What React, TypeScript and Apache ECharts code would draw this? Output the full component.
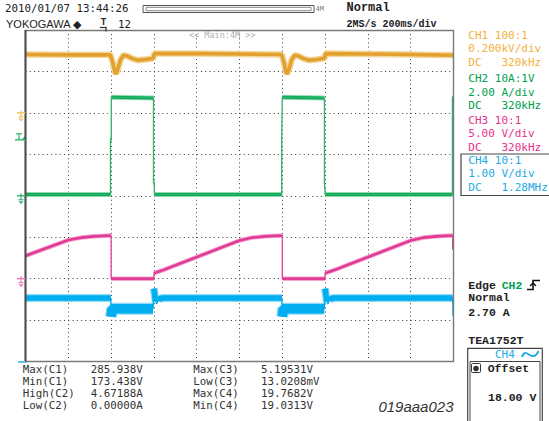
import React, { useEffect, useRef } from 'react';
import * as echarts from 'echarts';

type Pt = [number, number];

// ---- screen geometry (layout) ----
const GRID = { left: 25.5, top: 30, width: 428, height: 331.5 };
const X_DIVS = 10;
const Y_DIVS = 8;

// ---- traces in divisions (x: 200 ms/div, y: div from bottom) ----
const ch1Trace: Pt[] = [
  [0, 7.41], [1.0, 7.40], [1.98, 7.40], [2.03, 7.25], [2.08, 7.02], [2.11, 6.94], [2.15, 7.03],
  [2.22, 7.28], [2.29, 7.39], [2.38, 7.37], [2.5, 7.31], [2.62, 7.27], [2.8, 7.29], [2.99, 7.32],
  [3.01, 7.43], [4.0, 7.43], [5.0, 7.42], [5.98, 7.41], [6.03, 7.25], [6.08, 7.02], [6.11, 6.94],
  [6.15, 7.03], [6.22, 7.28], [6.29, 7.39], [6.38, 7.37], [6.5, 7.31], [6.62, 7.27], [6.8, 7.29],
  [6.99, 7.32], [7.01, 7.43], [8.0, 7.42], [9.0, 7.41], [10, 7.39],
];
const ch2Trace: Pt[] = [
  [0, 4.03], [1.985, 4.03], [1.985, 5.36], [2.005, 5.36], [2.005, 6.38], [2.99, 6.36],
  [2.99, 4.31], [3.01, 4.31], [3.01, 4.03], [5.985, 4.03], [5.985, 5.36], [6.0, 5.36], [6.0, 6.38],
  [6.985, 6.36], [6.985, 4.31], [7.0, 4.31], [7.0, 4.03], [9.975, 4.03], [9.975, 6.37], [10, 6.37],
];
const ch3Trace: Pt[] = [
  [0, 2.55], [1.0, 2.93], [1.3, 2.99], [1.6, 3.02], [2.0, 3.04], [2.0, 2.0], [3.0, 2.0], [3.0, 2.13],
  [3.25, 2.22], [5.0, 2.92], [5.3, 2.99], [5.6, 3.02], [6.0, 3.04], [6.0, 2.0], [7.0, 2.0], [7.0, 2.13],
  [7.25, 2.22], [9.0, 2.92], [9.3, 2.99], [9.6, 3.02], [9.98, 3.04], [9.98, 2.7],
];
const ch4Trace: Pt[] = [
  [0, 1.53], [1.99, 1.53], [2.0, 1.08], [2.02, 1.27], [2.98, 1.27], [3.0, 1.76], [3.04, 1.45],
  [3.07, 1.39], [3.1, 1.56], [3.15, 1.51], [3.2, 1.53], [5.99, 1.53], [6.0, 1.08], [6.02, 1.27],
  [6.98, 1.27], [7.0, 1.76], [7.04, 1.45], [7.07, 1.39], [7.1, 1.56], [7.15, 1.51], [7.2, 1.53],
  [9.98, 1.53], [9.99, 1.09],
];

const ch1Ground = 6;
const ch2Ground = 4;
const ch3Ground = 2;
const ch4Ground = 0;
const ch2TriggerLevel = 5.35;

// ---- texts ----
const dateText = '2010/01/07 13:44:26';
const brandText = 'YOKOGAWA ◆';
const triggerCount = '12';
const acqMode = 'Normal';
const timebase = '2MS/s 200ms/div';
const memLabel = '4M';
const zoomLabel = '<< Main:4M >>';
const ch1Info = ['CH1 100:1', '0.200kV/div', 'DC   320kHz'];
const ch2Info = ['CH2 10A:1V', '2.00 A/div', 'DC   320kHz'];
const ch3Info = ['CH3 10:1', '5.00 V/div', 'DC   320kHz'];
const ch4Info = ['CH4 10:1', '1.00 V/div', 'DC   1.28MHz'];
const trigLines = ['Normal', '2.70 A'];
const deviceName = 'TEA1752T';
const offsetLabel = 'Offset';
const offsetValue = '18.00 V';
const statLabelsA = ['Max(C1)', 'Min(C1)', 'High(C2)', 'Low(C2)'];
const statValuesA = ['285.938V', '173.438V', '4.67188A', '0.00000A'];
const statLabelsB = ['Max(C3)', 'Low(C3)', 'Max(C4)', 'Min(C4)'];
const statValuesB = ['5.19531V', '13.0208mV', '19.7682V', '19.0313V'];
const figureId = '019aaa023';

const C1 = '#E2A12F', C2 = '#00A651', C3 = '#E23C97', C4 = '#00AEEF';
const T1 = '#F2B13A', T2 = '#00A04E', T3 = '#E8308C', T4 = '#1BA9E6';
const MONO = '"DejaVu Sans Mono", monospace';
const LMONO = '"Liberation Mono", monospace';

function band(points: Pt[], keep: (a: Pt, b: Pt) => boolean): any[] {
  const out: any[] = [];
  let last = -1;
  for (let i = 0; i < points.length - 1; i++) {
    if (!keep(points[i], points[i + 1])) continue;
    if (last !== i) {
      if (out.length) out.push(['-', '-']);
      out.push(points[i]);
    }
    out.push(points[i + 1]);
    last = i + 1;
  }
  return out;
}
const flat = (a: Pt, b: Pt) => Math.abs(b[1] - a[1]) <= 12 * Math.abs(b[0] - a[0]);

function line(data: any[], color: string, width: number, opacity = 1) {
  return {
    type: 'line', data, showSymbol: false, symbol: 'none', silent: true,
    connectNulls: false, lineStyle: { color, width, opacity, cap: 'butt' },
  };
}

function txt(text: string, x: number, y: number, size: number, fill: string, family = MONO, weight: any = 'normal', extra: any = {}) {
  return {
    type: 'text', x, y, z: 50,
    style: {
      text, fill, fontSize: size, fontFamily: family, fontWeight: weight,
      verticalAlign: 'middle', textVerticalAlign: 'middle', align: 'left', textAlign: 'left', ...extra,
    },
  };
}

function seg(x1: number, y1: number, x2: number, y2: number, stroke: string, lineWidth: number) {
  return { type: 'line', z: 55, shape: { x1, y1, x2, y2 }, style: { stroke, lineWidth } };
}

function groundMarker(y: number, color: string) {
  return [
    seg(17, y, 25.5, y, color, 1.5),
    seg(21, y - 2.5, 21, y + 4, color, 1.2),
    seg(18.5, y + 4, 23.5, y + 4, color, 1.2),
    { type: 'polygon', z: 50, shape: { points: [[18.5, y + 5.5], [23.5, y + 5.5], [21, y + 8.5]] }, style: { fill: color } },
  ];
}

export default function App() {
  const ref = useRef<HTMLDivElement>(null);
  useEffect(() => {
    if (!ref.current) return;
    const chart = echarts.init(ref.current, null, { renderer: 'svg' });
    const axisCommon = { axisLine: { show: false }, axisTick: { show: false }, axisLabel: { show: false } };
    chart.setOption({
      animation: false,
      backgroundColor: '#ffffff',
      grid: { left: GRID.left, top: GRID.top, width: GRID.width, height: GRID.height, containLabel: false },
      xAxis: {
        type: 'value', min: 0, max: X_DIVS, interval: 1, ...axisCommon,
        splitLine: { show: true, lineStyle: { color: '#3c3c3c', width: 1, type: [1, 3.14] } },
      },
      yAxis: {
        type: 'value', min: 0, max: Y_DIVS, interval: 1, ...axisCommon,
        splitLine: { show: true, lineStyle: { color: '#3c3c3c', width: 1, type: [1, 3.28] } },
      },
      series: [
        // CH4
        line(band(ch4Trace, (a, b) => flat(a, b) && a[1] > 1.4 && b[1] > 1.4), '#8fd8f5', 8),
        line(band(ch4Trace, (a, b) => flat(a, b) && a[1] < 1.35 && b[1] < 1.35), '#8fd8f5', 12),
        line(band(ch4Trace, (a, b) => flat(a, b) && a[1] > 1.4 && b[1] > 1.4), C4, 5.5),
        line(band(ch4Trace, (a, b) => flat(a, b) && a[1] < 1.35 && b[1] < 1.35), C4, 9.5),
        line(ch4Trace, C4, 1.4),
        // CH3
        line(band(ch3Trace, flat), '#f3a9d0', 4.5),
        line(band(ch3Trace, flat), C3, 2.6),
        line(ch3Trace, C3, 1.3),
        // CH2
        line(band(ch2Trace, flat), '#95dbb2', 5),
        line(band(ch2Trace, flat), C2, 3),
        line(ch2Trace, '#2fb56a', 1.3),
        // CH1
        line(band(ch1Trace, flat), '#f4d59a', 6.5),
        line(band(ch1Trace, flat), C1, 3.6),
        line(ch1Trace, C1, 1.3),
      ],
    });

    const py = (v: number) => (chart.convertToPixel({ gridIndex: 0 }, [0, v]) as number[])[1];
    const gy1 = py(ch1Ground), gy2 = py(ch2Ground), gy3 = py(ch3Ground), gy4 = py(ch4Ground);
    const ty = py(ch2TriggerLevel);
    const B = GRID.top + GRID.height;

    const els: any[] = [];
    // frame
    els.push({ type: 'rect', z: 40, shape: { x: GRID.left, y: GRID.top + 0.5, width: GRID.width, height: GRID.height - 0.5 }, style: { fill: 'none', stroke: '#7a7a7a', lineWidth: 1.4 } });
    els.push(seg(GRID.left, GRID.top, GRID.left, B + 1, '#4d4d4d', 2));
    els.push(txt(zoomLabel, 189, 34.5, 8.5, '#b0b0b0'));

    // header
    els.push(txt(dateText, 5, 8, 10.8, '#222'));
    els.push(txt(brandText, 6, 24, 11, '#222', '"Liberation Sans", sans-serif', 'normal'));
    els.push(txt('T', 100.5, 22, 10, '#333', LMONO, 'bold'));
    els.push(seg(100, 27.5, 106.6, 27.5, '#333', 1.2));
    els.push(seg(106, 27.5, 106, 31.5, '#333', 1.2));
    els.push(txt(triggerCount, 118, 24, 10.8, '#222'));
    els.push({ type: 'rect', z: 50, shape: { x: 143, y: 5.5, width: 171, height: 7 }, style: { fill: '#fff', stroke: '#555', lineWidth: 1 } });
    els.push({ type: 'rect', z: 51, shape: { x: 146, y: 7.3, width: 165, height: 3.4 }, style: { fill: '#fff', stroke: '#888', lineWidth: 1 } });
    els.push(txt(memLabel, 315.5, 9, 7, '#777'));
    els.push(txt(acqMode, 346.5, 8, 12, '#222', LMONO, 'bold'));
    els.push(txt(timebase, 346.5, 24, 10, '#222', LMONO, 'bold'));

    // right panel channel info
    const infoX = 468.3;
    const infoRows: [string[], string, number][] = [[ch1Info, T1, 35], [ch2Info, T2, 78.5], [ch3Info, T3, 120], [ch4Info, T4, 160]];
    infoRows.forEach(([lines, color, y0]) => {
      lines.forEach((s, i) => els.push(txt(s, infoX, y0 + i * 13.7, 11, color)));
    });
    els.push({ type: 'rect', z: 45, shape: { x: 461, y: 154, width: 100, height: 41.5 }, style: { fill: 'none', stroke: '#444', lineWidth: 1.2 } });

    // trigger info
    els.push(txt('Edge', infoX, 285, 11.5, '#222', LMONO, 'bold'));
    els.push(txt('CH2', 501.7, 285, 11.5, T2, LMONO, 'bold'));
    els.push({ type: 'polyline', z: 60, shape: { points: [[527, 289.5], [533, 289.5], [533, 280.5], [540, 280.5]] }, style: { stroke: '#111', lineWidth: 1.6, fill: null } });
    els.push({ type: 'polyline', z: 60, shape: { points: [[530, 286], [533, 283], [536, 286]] }, style: { stroke: '#111', lineWidth: 1.3, fill: null } });
    trigLines.forEach((s, i) => els.push(txt(s, infoX, 297 + i * 15.7, 11.5, '#222', LMONO, 'bold')));
    els.push(txt(deviceName, infoX, 340.7, 11.5, '#222', LMONO, 'bold'));

    // offset box
    els.push({ type: 'rect', z: 45, shape: { x: 467.7, y: 348.3, width: 74.6, height: 90 }, style: { fill: 'none', stroke: '#444', lineWidth: 1.2 } });
    els.push({ type: 'rect', z: 45, shape: { x: 470, y: 361.5, width: 70, height: 80 }, style: { fill: 'none', stroke: '#444', lineWidth: 1 } });
    els.push(txt('CH4', 495, 354, 11, T4));
    els.push({ type: 'bezierCurve', z: 50, shape: { x1: 522, y1: 357, cpx1: 526, cpy1: 345, cpx2: 532, cpy2: 365, x2: 538.5, y2: 351 }, style: { stroke: T4, lineWidth: 1.8, fill: 'none' } });
    els.push({ type: 'rect', z: 50, shape: { x: 471.5, y: 363.5, width: 9, height: 9, r: 1 }, style: { fill: '#fff', stroke: '#333', lineWidth: 1 } });
    els.push({ type: 'circle', z: 51, shape: { cx: 476, cy: 368.5, r: 2.8 }, style: { fill: '#333' } });
    els.push(txt(offsetLabel, 487.7, 368, 11.5, '#222', LMONO, 'bold'));
    els.push(txt(offsetValue, 488, 397, 11.5, '#222', LMONO, 'bold'));

    // stats
    const rowY = [369.5, 381.7, 393.7, 405.5];
    statLabelsA.forEach((s, i) => els.push(txt(s, 22.7, rowY[i], 10.8, '#333')));
    statValuesA.forEach((s, i) => els.push(txt(s, 90.7, rowY[i], 10.8, '#333')));
    statLabelsB.forEach((s, i) => els.push(txt(s, 193.3, rowY[i], 10.8, '#333')));
    statValuesB.forEach((s, i) => els.push(txt(s, 261, rowY[i], 10.8, '#333')));
    els.push(txt(figureId, 453.5, 406.5, 15, '#333', '"Liberation Sans", sans-serif', 'normal', { fontStyle: 'italic', align: 'right', textAlign: 'right' }));

    // channel markers on the left
    els.push(...groundMarker(gy1, '#F2C164'));
    els.push(...groundMarker(gy2, '#3DB873'));
    els.push(...groundMarker(gy3, '#F07CBB'));
    els.push(seg(16, ty - 6, 22, ty - 6, '#3DB873', 1.3));
    els.push(seg(19, ty - 6, 19, ty, '#3DB873', 1.3));
    els.push(seg(15, ty, 25.5, ty, '#3DB873', 1.5));
    els.push({ type: 'polygon', z: 50, shape: { points: [[21.5, ty], [25.5, ty], [25.5, ty - 4]] }, style: { fill: C2 } });
    els.push(seg(18, gy4 + 0.5, 25.5, gy4 + 0.5, '#5cc8f0', 2));

    chart.setOption({ graphic: { elements: els } });
    return () => chart.dispose();
  }, []);
  return <div ref={ref} style={{ position: 'fixed', left: 0, top: 0, width: 549, height: 421, background: '#fff' }} />;
}
